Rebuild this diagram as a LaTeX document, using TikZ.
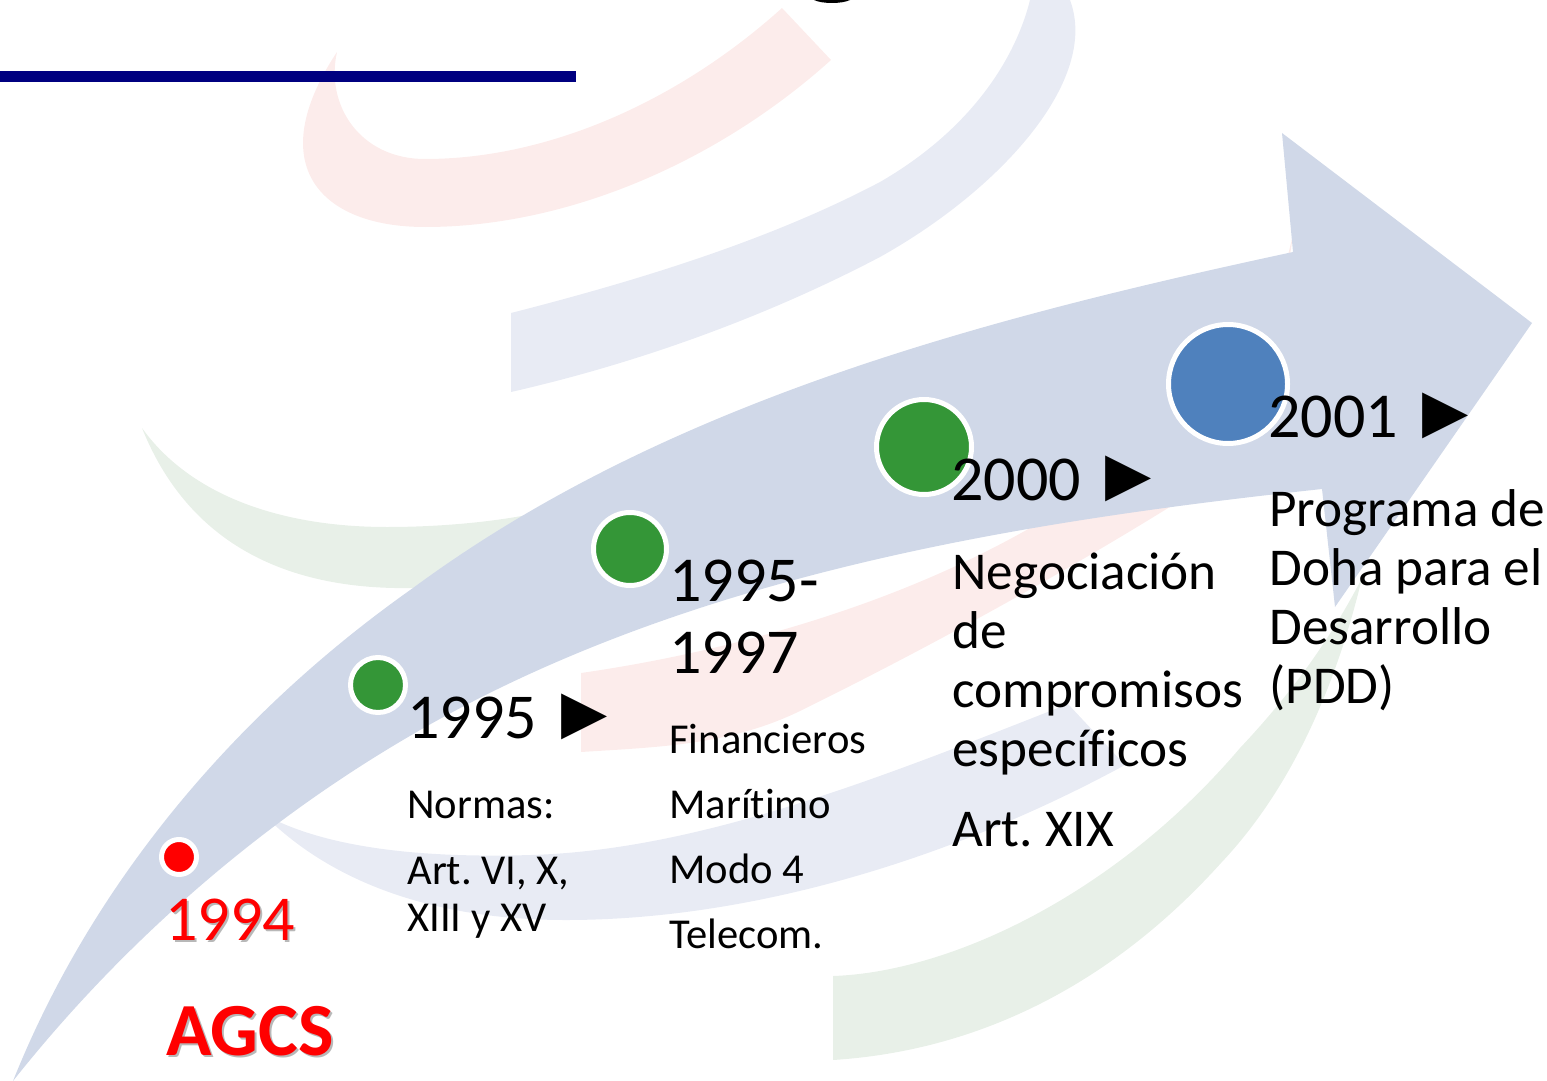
\documentclass[tikz,border=0pt]{standalone}
\usepackage{fontspec}
\setmainfont{Carlito}[Ligatures=NoCommon]
\newfontfamily\symfont{DejaVu Sans}
\definecolor{arrowblue}{RGB}{208,216,232}
\definecolor{paleblue}{RGB}{232,235,244}
\definecolor{palered}{RGB}{252,236,235}
\definecolor{palegreen}{RGB}{232,240,232}
\definecolor{dotgreen}{RGB}{52,150,55}
\definecolor{dotblue}{RGB}{79,129,189}
\definecolor{rulenavy}{RGB}{0,0,128}
\newcommand{\tri}{\hspace{5pt}{\symfont\fontsize{30}{30}\selectfont\raisebox{2.9pt}{▶}}}
\newcommand{\shadowed}[1]{\rlap{\kern1pt\raisebox{-1pt}{\textcolor{black!28}{#1}}}#1}
\tikzset{
	dotnode/.style={circle,draw=white,line width=2.5pt,inner sep=0pt},
	yearlabel/.style={anchor=base west,inner sep=0pt,align=left,font=\fontsize{32}{36}\selectfont},
	biglabel/.style={anchor=base west,inner sep=0pt,align=left,font=\fontsize{26.6}{29.35}\selectfont},
	smalllabel/.style={anchor=base west,inner sep=0pt,align=left,font=\fontsize{21.3}{23.5}\selectfont}
}
\frenchspacing
\begin{document}
\begin{tikzpicture}[x=0.5pt,y=0.5pt,yscale=-1,xscale=1]
	\useasboundingbox (0,0) rectangle (1547,1081);

	%Logo red upper
	\fill [palered] (337,52) .. controls (325,105) and (360,159) .. (425,159) .. controls (550,159) and (680,100) .. (782,8) -- (831,60)
		.. controls (720,160) and (570,227) .. (425,227) .. controls (320,227) and (262,165) .. (337,52) -- cycle ;
	%Logo blue upper
	\fill [paleblue] (511,313) .. controls (640,280) and (770,240) .. (880,182) .. controls (970,130) and (1015,60) .. (1030,0) -- (1070,0)
		.. controls (1100,80) and (1000,190) .. (880,257) .. controls (760,320) and (630,365) .. (511,392) -- cycle ;
	%Logo green left
	\fill [palegreen] (142,428) .. controls (190,495) and (280,527) .. (387,527) .. controls (440,527) and (490,522) .. (527,515) -- (600,500) -- (560,590) -- (413,588)
		.. controls (310,590) and (195,560) .. (142,428) -- cycle ;
	%Logo red middle
	\fill [palered] (581,673) .. controls (740,650) and (900,602) .. (1030,528) .. controls (1120,470) and (1240,330) .. (1288,255) -- (1293,235)
		.. controls (1280,330) and (1240,440) .. (1173,505) .. controls (1060,575) and (930,647) .. (800,711) .. controls (730,745) and (660,747) .. (581,752) -- cycle ;
	%Logo blue lower
	\fill [paleblue] (250,800) -- (265,815) .. controls (330,850) and (430,858) .. (531,855) .. controls (700,850) and (880,778) .. (1068,704) -- (1125,765)
		.. controls (950,860) and (750,920) .. (566,920) .. controls (430,920) and (320,880) .. (250,800) -- cycle ;
	%Logo green right
	\fill [palegreen] (833,976) .. controls (950,972) and (1115,895) .. (1240,748) .. controls (1290,695) and (1330,640) .. (1362,578)
		.. controls (1335,690) and (1290,790) .. (1221,863) .. controls (1120,975) and (990,1050) .. (833,1060) -- cycle ;

	%Timeline arrow
	\fill [arrowblue] (13,1081) .. controls (93,881) and (237,712) .. (413,588) .. controls (665,402) and (985,318) .. (1293,252)
		-- (1282,133) -- (1532,323) -- (1335,607) -- (1322,489)
		.. controls (1006,523) and (676,578) .. (403,740) .. controls (254,828) and (120,946) .. (13,1081) -- cycle ;

	%Title rule
	\fill [rulenavy] (0,71) rectangle (576,82) ;
	%Title remnant
	\fill (814,0) .. controls (822,4) and (842,4) .. (850,0) -- cycle ;

	%Dots
	\node [dotnode,fill=red,minimum size=17.5pt] (dotnovfour) at (179,857) {};
	\node [dotnode,fill=dotgreen,minimum size=27.5pt] (dotninefive) at (378,685) {};
	\node [dotnode,fill=dotgreen,minimum size=36.5pt] (dotninesev) at (630,549) {};
	\node [dotnode,fill=dotgreen,minimum size=47.5pt] (dottwozero) at (924,447) {};
	\node [dotnode,fill=dotblue,minimum size=59.5pt] (dottwoone) at (1228,384) {};

	% Text Node
	\node [yearlabel,text=red] (yearfour) at (165,940) {\shadowed{1994}};
	% Text Node
	\node [anchor=base west,inner sep=0pt,text=red,font=\fontsize{37.5}{40}\selectfont\bfseries] (agcs) at (166,1055) {\shadowed{AGCS}};
	% Text Node
	\node [yearlabel] (yearfive) at (407,738) {1995 \tri};
	% Text Node
	\node [smalllabel] (normas) at (407,818) {Normas:};
	% Text Node
	\node [smalllabel] (articulos) at (407,931) {Art. VI, X,\\XIII y XV};
	% Text Node
	\node [yearlabel] (yearseven) at (669,673) {1995-\\1997};
	% Text Node
	\node [smalllabel] (financieros) at (669,753) {Financieros};
	% Text Node
	\node [smalllabel] (maritimo) at (669,818) {Marítimo};
	% Text Node
	\node [smalllabel] (modo) at (669,883) {Modo 4};
	% Text Node
	\node [smalllabel] (telecom) at (669,948) {Telecom.};
	% Text Node
	\node [yearlabel] (yearzero) at (951,500) {2000 \tri};
	% Text Node
	\node [biglabel] (negociacion) at (952,766) {Negociación\\de\\compromisos\\específicos};
	% Text Node
	\node [biglabel] (artxix) at (952,846) {Art. XIX};
	% Text Node
	\node [yearlabel] (yearone) at (1268,437) {2001 \tri};
	% Text Node
	\node [biglabel] (doha) at (1269,703) {Programa de\\Doha para el\\Desarrollo\\(PDD)};
\end{tikzpicture}
\end{document}
